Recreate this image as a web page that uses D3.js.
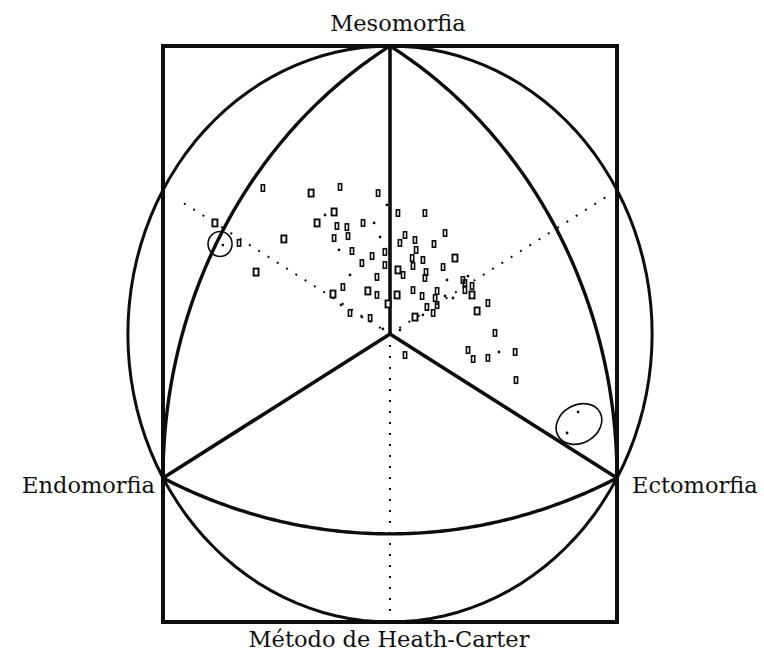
<!DOCTYPE html>
<html>
<head>
<meta charset="utf-8">
<script src="https://cdn.jsdelivr.net/npm/d3@7"></script>
<style>
  body { margin: 0; background: #fff; }
  text { font-family: 'DejaVu Serif', 'Liberation Serif', serif; fill: #101010; }
</style>
</head>
<body>
<svg id="chart" width="764" height="654"></svg>
<script>
// somatochart coordinates: X = ecto - endo, Y = 2 meso - endo - ecto
var vertexNames = ['Mesomorfia', 'Endomorfia', 'Ectomorfia']
var vertexX = [0, -8, 8]
var vertexY = [16, -8, -8]
var chartTitle = 'Método de Heath-Carter'

// subjects
var somaX = [-6.17, -5.32, -5.89, -3.74, -4.72, -4.48, -2.78, -1.76, -0.42, -0.11,
  0.28, 1.23, -1.97, -2.29, -2.57, -1.87, -1.52, -0.95, -0.56, -1.97,
  -1.48, -0.35, 1.94, 0.53, 0.88, 0.35, 1.55, -1.80, -1.34, -0.63,
  -0.18, 0.92, 0.78, 1.16, 2.29, -0.99, -0.18, 0.28, 0.46, 0.81,
  1.27, 1.87, -1.41, -0.46, 1.23, 2.01, 2.57, 2.75, 2.89, 2.64,
  -2.01, -1.66, -0.78, -0.46, 0.25, 0.81, 1.13, 1.66, 1.94, 1.59,
  2.22, 2.89, 3.45, -1.73, -0.07, 1.30, 1.66, 3.07, -1.41, -0.99,
  -0.70, 0.88, 1.16, 1.52, -0.25, 0.35, 3.70, 2.64, 0.53, 2.75,
  2.93, 3.45, 3.84, 4.41, 4.44, 6.63, 6.24]
var somaY = [6.17, 5.06, 4.94, 5.28, 3.44, 8.11, 7.83, 8.17, 7.83, 7.17,
  6.72, 6.72, 6.78, 6.61, 6.17, 6.00, 5.94, 6.17, 6.17, 5.33,
  5.44, 5.39, 5.61, 5.50, 5.22, 5.06, 5.00, 4.67, 4.61, 4.33,
  4.56, 4.67, 4.22, 4.11, 4.22, 3.94, 3.83, 3.56, 3.28, 3.78,
  3.44, 3.72, 3.28, 3.17, 3.11, 3.00, 3.00, 3.22, 2.67, 2.44,
  2.22, 2.61, 2.39, 2.17, 2.17, 2.44, 2.11, 2.39, 2.11, 2.00,
  2.00, 2.17, 1.72, 1.61, 1.67, 1.50, 1.61, 1.28, 1.17, 0.94,
  0.89, 0.94, 1.06, 1.17, 0.28, 0.22, 0.06, 2.83, -1.17, -0.89,
  -1.39, -1.33, -1.00, -1.00, -2.56, -4.33, -5.50]
// r = open square, s = small printed mark, d = dot
var somaMark = ['r', 's', 'd', 'r', 'r', 's', 'r', 's', 's', 'd',
  's', 's', 'r', 'd', 'r', 's', 's', 's', 'd', 's',
  's', 'd', 's', 's', 's', 's', 's', 'd', 's', 's',
  's', 's', 's', 's', 'r', 's', 's', 'r', 's', 's',
  's', 's', 'd', 's', 's', 'd', 's', 'd', 's', 's',
  'r', 's', 'r', 's', 'r', 's', 's', 's', 'd', 's',
  'd', 'r', 's', 'd', 'r', 's', 's', 'r', 's', 'd',
  's', 'r', 'd', 's', 'd', 'd', 's', 's', 's', 's',
  's', 's', 'd', 's', 's', 'd', 'd']

// hand-drawn rings around single subjects
var ringX = [-5.99, 6.66]
var ringY = [5.0, -5.0]

var x = d3.scaleLinear().domain([-8, 8]).range([163, 617])
var y = d3.scaleLinear().domain([-16, 16]).range([622, 46])

var svg = d3.select('#chart')
var ink = '#0d0d0d'

// unit frame (circumradius 1) -> somatochart coordinates
var kx = 8 / (Math.sqrt(3) / 2)
var ky = 16
function unit (u, v) { return [u * kx, v * ky] }

var line = d3.line()
  .x(function (d) { return x(d[0]) })
  .y(function (d) { return y(d[1]) })

function arcPoints (cu, cv, r, a0, a1) {
  return d3.range(0, 121).map(function (i) {
    var a = (a0 + (a1 - a0) * i / 120) * Math.PI / 180
    return unit(cu + r * Math.cos(a), cv + r * Math.sin(a))
  })
}

// dotted axes (behind everything)
var dotted = [[[0, 0], [-7.3, 7.3]], [[0, 0], [7.7, 7.7]], [[0, 0], [0, -15.6]]]
svg.append('g')
  .selectAll('path')
  .data(dotted)
  .enter()
  .append('path')
  .attr('d', line)
  .attr('fill', 'none')
  .attr('stroke', ink)
  .attr('stroke-width', 2)
  .attr('stroke-dasharray', '2 9')

// frame
svg.append('rect')
  .attr('x', x(-8))
  .attr('y', y(16))
  .attr('width', x(8) - x(-8))
  .attr('height', y(-16) - y(16))
  .attr('fill', 'none')
  .attr('stroke', ink)
  .attr('stroke-width', 4)

// circumscribed circle
svg.append('path')
  .attr('d', line(arcPoints(0, 0, 1, 0, 360)) + 'Z')
  .attr('fill', 'none')
  .attr('stroke', ink)
  .attr('stroke-width', 3)

// Reuleaux sides
var s3 = Math.sqrt(3)
var bottomV = -0.694
var a = Math.sqrt(3) / 2
var cBottom = (a * a + 0.25 - bottomV * bottomV) / (2 * (-0.5 - bottomV))
var rBottom = cBottom - bottomV
var angB = Math.atan2(-0.5 - cBottom, a) * 180 / Math.PI
var sides = [
  arcPoints(a, -0.5, s3, 120, 180),
  arcPoints(-a, -0.5, s3, 0, 60),
  arcPoints(0, cBottom, rBottom, -180 - angB, angB)
]
svg.append('g')
  .selectAll('path')
  .data(sides)
  .enter()
  .append('path')
  .attr('d', line)
  .attr('fill', 'none')
  .attr('stroke', ink)
  .attr('stroke-width', 3.4)

// spokes from centre to the vertices
svg.append('g')
  .selectAll('path')
  .data(vertexX.map(function (vx, i) { return [[0, 0], [vx, vertexY[i]]] }))
  .enter()
  .append('path')
  .attr('d', line)
  .attr('stroke', ink)
  .attr('stroke-width', 3.6)
  .attr('stroke-linecap', 'round')

// subjects
var pts = svg.append('g')
  .selectAll('g')
  .data(somaX.map(function (d, i) { return {x: d, y: somaY[i], m: somaMark[i]} }))
  .enter()
  .append('g')
  .attr('transform', function (d) { return 'translate(' + x(d.x) + ',' + y(d.y) + ')' })

pts.filter(function (d) { return d.m === 'r' })
  .append('rect')
  .attr('x', -2.5).attr('y', -3.5).attr('width', 5).attr('height', 7)
  .attr('fill', '#fff').attr('stroke', ink).attr('stroke-width', 1.9)
pts.filter(function (d) { return d.m === 's' })
  .append('rect')
  .attr('x', -1.6).attr('y', -3.2).attr('width', 3.2).attr('height', 6.4)
  .attr('fill', 'none').attr('stroke', ink).attr('stroke-width', 1.6)
pts.filter(function (d) { return d.m === 'd' })
  .append('circle')
  .attr('r', 1.4)
  .attr('fill', ink)

// rings
var ringSize = [[12, 12.5, 0], [24, 19, -30]]
svg.append('g')
  .selectAll('ellipse')
  .data(ringX.map(function (d, i) { return {x: d, y: ringY[i], s: ringSize[i]} }))
  .enter()
  .append('ellipse')
  .attr('transform', function (d) { return 'translate(' + x(d.x) + ',' + y(d.y) + ') rotate(' + d.s[2] + ')' })
  .attr('rx', function (d) { return d.s[0] })
  .attr('ry', function (d) { return d.s[1] })
  .attr('fill', 'none')
  .attr('stroke', ink)
  .attr('stroke-width', 1.6)

// labels
svg.append('text').text(vertexNames[0])
  .attr('x', 398).attr('y', 31).attr('text-anchor', 'middle')
  .attr('font-size', 22.5)
svg.append('text').text(vertexNames[1])
  .attr('x', x(-8) - 8).attr('y', y(-8) + 15).attr('text-anchor', 'end')
  .attr('font-size', 22.5)
svg.append('text').text(vertexNames[2])
  .attr('x', x(8) + 15).attr('y', y(-8) + 15).attr('text-anchor', 'start')
  .attr('font-size', 22.5)
svg.append('text').text(chartTitle)
  .attr('x', 389).attr('y', 647).attr('text-anchor', 'middle')
  .attr('font-size', 22.5)
</script>
</body>
</html>
